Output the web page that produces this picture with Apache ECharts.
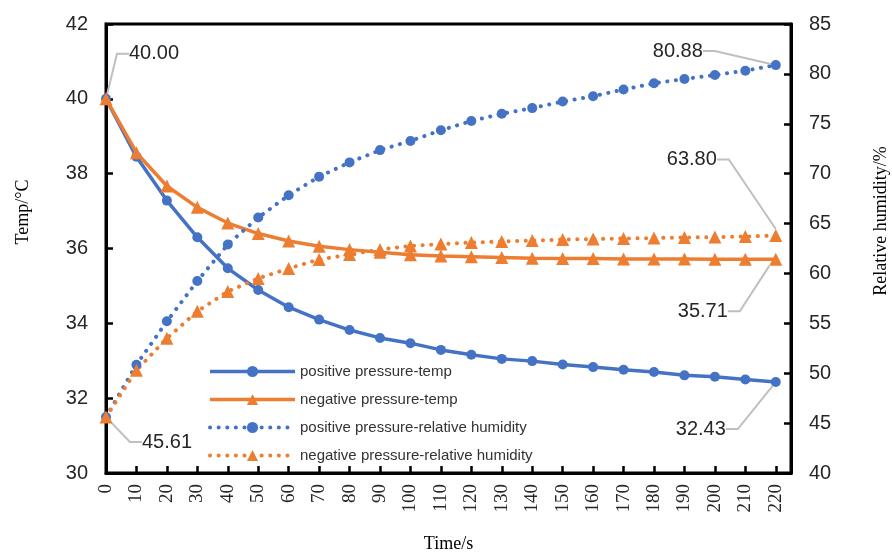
<!DOCTYPE html>
<html>
<head>
<meta charset="utf-8">
<script src="https://cdn.jsdelivr.net/npm/echarts@6/dist/echarts.min.js"></script>
<style>
html,body{margin:0;padding:0;background:#fff;}
#chart{width:892px;height:558px;}
</style>
</head>
<body>
<div id="chart"></div>
<script>
const time = [0,10,20,30,40,50,60,70,80,90,100,110,120,130,140,150,160,170,180,190,200,210,220];
const posTemp = [40.00,38.45,37.28,36.30,35.47,34.89,34.43,34.10,33.82,33.61,33.47,33.29,33.16,33.05,32.99,32.90,32.83,32.76,32.70,32.61,32.57,32.50,32.43];
const negTemp = [40.00,38.56,37.67,37.10,36.68,36.40,36.20,36.06,35.97,35.90,35.83,35.80,35.78,35.76,35.74,35.73,35.73,35.72,35.72,35.72,35.71,35.71,35.71];
const posHum = [45.61,50.85,55.20,59.25,62.90,65.60,67.84,69.70,71.13,72.36,73.28,74.35,75.28,76.00,76.57,77.23,77.76,78.43,79.06,79.49,79.89,80.32,80.88];
const negHum = [45.61,50.30,53.50,56.20,58.20,59.50,60.50,61.40,61.90,62.40,62.75,62.95,63.10,63.20,63.30,63.40,63.45,63.50,63.55,63.60,63.65,63.70,63.80];
const seriesNames = ['positive pressure-temp','negative pressure-temp','positive pressure-relative humidity','negative pressure-relative humidity'];
const tempTicks = {min:30, max:42, interval:2};
const humTicks = {min:40, max:85, interval:5};

const BLUE = '#4472C4', ORANGE = '#ED7D31';

// label offsets (relative to data point) for the labelled points
const labelSpec = {
  '0-0': [48, -45],
  '0-22': [-75, 47],
  '1-22': [-73, 52],
  '2-0': [61, 25],
  '2-22': [-98, -14],
  '3-22': [-84, -76]
};

function build(vals, sIdx) {
  return vals.map((v, i) => ({
    value: [time[i], v],
    label: {show: labelSpec.hasOwnProperty(sIdx + '-' + i)}
  }));
}

const labelCommon = {
  position: 'inside',
  formatter: p => p.value[1].toFixed(2),
  fontFamily: 'Liberation Sans',
  fontSize: 20,
  color: '#262626'
};
const labelLineCommon = {show: true, length2: 12, lineStyle: {color: '#bfbfbf', width: 2}};
const layoutFn = function (params) {
  const s = labelSpec[params.seriesIndex + '-' + params.dataIndex];
  if (s) return {dx: s[0], dy: s[1]};
  return {};
};

const solidStyle = c => ({color: c, width: 3.5});
const dotStyle = c => ({color: c, width: 4, type: [0.1, 8.5], cap: 'round'});

const chart = echarts.init(document.getElementById('chart'));
chart.setOption({
  animation: false,
  backgroundColor: '#fff',
  grid: {left: 106, right: 101, top: 24, bottom: 84, show: true, borderColor: '#000', borderWidth: 3, backgroundColor: 'transparent'},
  legend: {
    orient: 'vertical',
    left: 208,
    top: 364,
    itemWidth: 85,
    itemHeight: 14,
    itemGap: 13,
    padding: 0,
    textStyle: {fontFamily: 'Liberation Sans', fontSize: 15, color: '#333'},
    data: [
      {name: seriesNames[0], lineStyle: solidStyle(BLUE)},
      {name: seriesNames[1], lineStyle: solidStyle(ORANGE)},
      {name: seriesNames[2], lineStyle: dotStyle(BLUE)},
      {name: seriesNames[3], lineStyle: dotStyle(ORANGE)}
    ]
  },
  xAxis: {
    type: 'value',
    min: 0,
    max: 225,
    interval: 10,
    splitLine: {show: false},
    axisLine: {onZero: false, lineStyle: {color: '#000', width: 3}},
    axisTick: {inside: true, length: 7, lineStyle: {color: '#000', width: 2.5}},
    axisLabel: {rotate: 90, margin: 11, showMaxLabel: false, fontFamily: 'Liberation Serif', fontSize: 19, color: '#262626'},
    name: 'Time/s',
    nameLocation: 'middle',
    nameGap: 62,
    nameTextStyle: {fontFamily: 'Liberation Serif', fontSize: 18, color: '#000'}
  },
  yAxis: [{
    type: 'value',
    min: tempTicks.min, max: tempTicks.max, interval: tempTicks.interval,
    splitLine: {show: false},
    axisLine: {show: true, lineStyle: {color: '#000', width: 3}},
    axisTick: {show: true, inside: true, length: 7, lineStyle: {color: '#000', width: 2.5}},
    axisLabel: {margin: 18, fontFamily: 'Liberation Sans', fontSize: 20, color: '#262626'}
  }, {
    type: 'value',
    position: 'right',
    min: humTicks.min, max: humTicks.max, interval: humTicks.interval,
    splitLine: {show: false},
    axisLine: {show: true, lineStyle: {color: '#000', width: 3}},
    axisTick: {show: true, inside: true, length: 7, lineStyle: {color: '#000', width: 2.5}},
    axisLabel: {margin: 18, fontFamily: 'Liberation Sans', fontSize: 20, color: '#262626'}
  }],
  graphic: [{
    type: 'text', x: 23, y: 212, rotation: Math.PI / 2,
    style: {text: 'Temp/°C', fontFamily: 'Liberation Serif', fontSize: 18, fill: '#000', align: 'center', verticalAlign: 'middle'}
  }, {
    type: 'text', x: 881, y: 221, rotation: Math.PI / 2,
    style: {text: 'Relative humidity/%', fontFamily: 'Liberation Serif', fontSize: 18, fill: '#000', align: 'center', verticalAlign: 'middle'}
  }],
  series: [{
    name: seriesNames[0], type: 'line', yAxisIndex: 0,
    data: build(posTemp, 0),
    symbol: 'circle', symbolSize: 10,
    itemStyle: {color: BLUE}, lineStyle: solidStyle(BLUE),
    label: labelCommon, labelLine: labelLineCommon, labelLayout: layoutFn
  }, {
    name: seriesNames[1], type: 'line', yAxisIndex: 0,
    data: build(negTemp, 1),
    symbol: 'triangle', symbolSize: 13,
    itemStyle: {color: ORANGE}, lineStyle: solidStyle(ORANGE),
    label: labelCommon, labelLine: labelLineCommon, labelLayout: layoutFn
  }, {
    name: seriesNames[2], type: 'line', yAxisIndex: 1,
    data: build(posHum, 2),
    symbol: 'circle', symbolSize: 10,
    itemStyle: {color: BLUE}, lineStyle: dotStyle(BLUE),
    label: labelCommon, labelLine: labelLineCommon, labelLayout: layoutFn
  }, {
    name: seriesNames[3], type: 'line', yAxisIndex: 1,
    data: build(negHum, 3),
    symbol: 'triangle', symbolSize: 13,
    itemStyle: {color: ORANGE}, lineStyle: dotStyle(ORANGE),
    label: labelCommon, labelLine: labelLineCommon, labelLayout: layoutFn
  }]
});
</script>
</body>
</html>
